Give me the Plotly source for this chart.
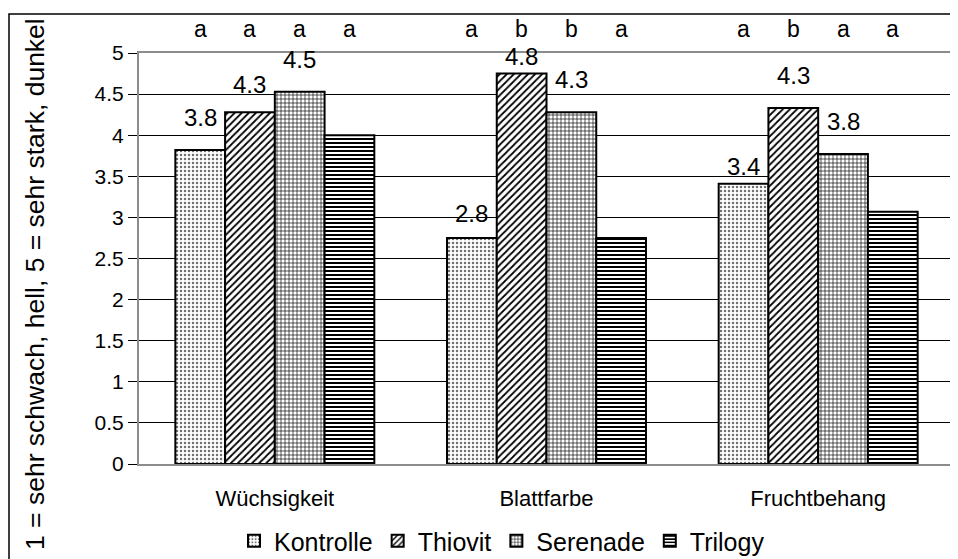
import plotly.graph_objects as go

categories = ["Wüchsigkeit", "Blattfarbe", "Fruchtbehang"]
series_names = ["Kontrolle", "Thiovit", "Serenade", "Trilogy"]
kontrolle = [3.82, 2.75, 3.41]
thiovit = [4.28, 4.75, 4.33]
serenade = [4.53, 4.28, 3.77]
trilogy = [4.0, 2.75, 3.07]
letters_wuchs = ["a", "a", "a", "a"]
letters_blatt = ["a", "b", "b", "a"]
letters_frucht = ["a", "b", "a", "a"]
y_ticks = [0, 0.5, 1, 1.5, 2, 2.5, 3, 3.5, 4, 4.5, 5]
y_tick_text = ["0", "0.5", "1", "1.5", "2", "2.5", "3", "3.5", "4", "4.5", "5"]
y_title = "1 = sehr schwach, hell, 5 = sehr stark, dunkel"

values = [kontrolle, thiovit, serenade, trilogy]
letters = [letters_wuchs, letters_blatt, letters_frucht]
show_label = [True, True, True, False]

# styling: the page body has an 8px margin, so the figure is offset by 8px
OFF = 8
WIN_W, WIN_H = 958, 559
W, H = WIN_W - OFF, WIN_H - OFF
# plot area in screen pixels
PL, PR, PT, PB = 139, 954, 53, 464
ML, MR, MT, MB = PL - OFF, W - (PR - OFF), PT - OFF, H - (PB - OFF)
plot_w = W - ML - MR
plot_h = H - MT - MB
BARGAP = 0.2676
bar_px = plot_w / len(categories) * (1 - BARGAP) / 4
FONT = "Liberation Sans, Arial, sans-serif"


def py_(sy):
    """screen y pixel -> paper y"""
    return (PB - sy) / plot_h


def px_(sx):
    """screen x pixel -> paper x"""
    return (sx - PL) / plot_w


patterns = [
    dict(shape=".", size=4, solidity=0.3, fgcolor="#707070", bgcolor="#ffffff", fillmode="replace"),
    dict(shape="/", size=5, solidity=0.35, fgcolor="#000000", bgcolor="#ffffff", fillmode="replace"),
    dict(shape="+", size=4, solidity=0.3, fgcolor="#000000", bgcolor="#ffffff", fillmode="replace"),
    dict(shape="-", size=4, solidity=0.5, fgcolor="#000000", bgcolor="#ffffff", fillmode="replace"),
]

fig = go.Figure()
for name, vals, pat in zip(series_names, values, patterns):
    fig.add_trace(go.Bar(
        x=categories, y=vals, name=name,
        marker=dict(color="#ffffff", pattern=pat, line=dict(color="#000000", width=2)),
    ))

# label gaps (px above bar top)
gap_default = 17
gap_special = {(1, 1): 2, (2, 0): 2, (1, 0): 9, (0, 1): 12}

annotations = []
for si, (vals, show) in enumerate(zip(values, show_label)):
    xs = (si - 1.5) * bar_px
    for ci, cat in enumerate(categories):
        if show:
            annotations.append(dict(
                x=cat, y=vals[ci], xref="x", yref="y", text=f"{vals[ci]:.1f}",
                showarrow=False, xshift=xs, yshift=gap_special.get((ci, si), gap_default),
                yanchor="bottom", font=dict(family=FONT, size=24, color="#000000"),
            ))
        annotations.append(dict(
            x=cat, y=py_(29), xref="x", yref="paper", text=letters[ci][si],
            showarrow=False, xshift=xs, yanchor="middle",
            font=dict(family=FONT, size=23, color="#000000"),
        ))

annotations.append(dict(
    x=px_(35), y=py_(284), xref="paper", yref="paper",
    text=y_title, textangle=-90, showarrow=False, xanchor="center", yanchor="middle",
    font=dict(family=FONT, size=26.5, color="#000000"),
))

fig.update_layout(
    width=W, height=H,
    margin=dict(l=ML, r=MR, t=MT, b=MB, autoexpand=False),
    paper_bgcolor="#ffffff", plot_bgcolor="#ffffff",
    barmode="group", bargap=BARGAP, bargroupgap=0,
    annotations=annotations,
    showlegend=True,
    legend=dict(orientation="h", x=px_(502), xanchor="center", y=py_(541),
                yanchor="middle", font=dict(family=FONT, size=25, color="#000000"),
                bgcolor="rgba(0,0,0,0)", itemwidth=30),
    shapes=[dict(type="rect", xref="paper", yref="paper",
                 x0=px_(9), x1=px_(975),
                 y0=py_(580), y1=py_(14),
                 line=dict(color="#000000", width=1.5), layer="below")],
)

fig.update_yaxes(
    range=[0, 5], tickvals=y_ticks, ticktext=y_tick_text, automargin=False,
    showgrid=True, gridcolor="#000000", gridwidth=1,
    ticks="outside", ticklen=9, tickcolor="#000000", tickwidth=1,
    showline=True, linecolor="#8c8c8c", linewidth=2, mirror=True,
    zeroline=False,
    tickfont=dict(family=FONT, size=21, color="#000000"),
)
fig.update_xaxes(
    automargin=False,
    showline=True, linecolor="#8c8c8c", linewidth=2, mirror=True,
    ticks="", showgrid=False, ticklabelstandoff=14,
    tickfont=dict(family=FONT, size=22, color="#000000"),
)

fig.write_html("out.html")
